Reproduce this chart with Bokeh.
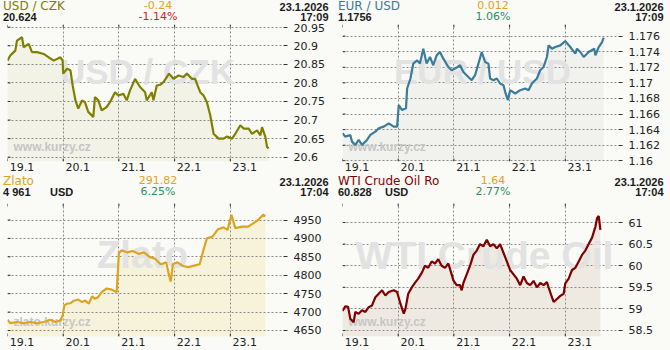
from bokeh.plotting import figure
from bokeh.models import Label, FixedTicker, Range1d, Div
from bokeh.layouts import column, row
from bokeh.embed import file_html
from bokeh.resources import INLINE

# ---------------- data ----------------
day_ticks = [0, 1, 2, 3, 4]
day_labels = ["19.1", "20.1", "21.1", "22.1", "23.1"]

# USD / CZK  (time in days from 19.1 00:00)
czk_t = [0.00, 0.05, 0.14, 0.17, 0.26, 0.29, 0.38, 0.44, 0.53, 0.65, 0.74, 0.83, 0.95, 0.99,
         1.00, 1.07, 1.13, 1.17, 1.22, 1.27, 1.34, 1.39, 1.45, 1.54, 1.57, 1.63, 1.69, 1.78,
         1.84, 1.93, 1.99, 2.08, 2.14, 2.20, 2.29, 2.38, 2.47, 2.50, 2.59, 2.62, 2.68, 2.74,
         2.80, 2.90, 2.98, 3.07, 3.16, 3.22, 3.31, 3.37, 3.40, 3.46, 3.52, 3.58, 3.64, 3.70,
         3.79, 3.88, 3.94, 4.03, 4.09, 4.18, 4.24, 4.33, 4.39, 4.48, 4.54, 4.57, 4.63, 4.66, 4.69]
czk_v = [20.860, 20.874, 20.887, 20.914, 20.923, 20.896, 20.905, 20.883, 20.883, 20.878, 20.869,
         20.860, 20.869, 20.860, 20.825, 20.838, 20.834, 20.793, 20.753, 20.731, 20.753, 20.748,
         20.722, 20.708, 20.762, 20.753, 20.726, 20.735, 20.748, 20.775, 20.766, 20.771, 20.753,
         20.780, 20.811, 20.789, 20.775, 20.753, 20.775, 20.753, 20.793, 20.795, 20.802, 20.825,
         20.811, 20.820, 20.816, 20.825, 20.811, 20.811, 20.798, 20.775, 20.766, 20.748, 20.713,
         20.663, 20.650, 20.650, 20.656, 20.650, 20.663, 20.686, 20.677, 20.677, 20.663, 20.672,
         20.659, 20.681, 20.654, 20.627, 20.624]
czk_ticks = [20.6, 20.65, 20.7, 20.75, 20.8, 20.85, 20.9, 20.95]
czk_tick_labels = ["20.6", "20.65", "20.7", "20.75", "20.8", "20.85", "20.9", "20.95"]

# EUR / USD
eur_t = [0.00, 0.05, 0.14, 0.17, 0.23, 0.29, 0.35, 0.44, 0.50, 0.59, 0.65, 0.74, 0.83, 0.92,
         0.98, 1.01, 1.07, 1.14, 1.16, 1.22, 1.27, 1.34, 1.39, 1.45, 1.51, 1.57, 1.63, 1.69,
         1.75, 1.81, 1.90, 1.96, 2.02, 2.11, 2.17, 2.26, 2.32, 2.38, 2.44, 2.50, 2.56, 2.62,
         2.65, 2.71, 2.77, 2.83, 2.89, 2.92, 2.97, 3.01, 3.10, 3.19, 3.28, 3.34, 3.40, 3.49,
         3.55, 3.61, 3.67, 3.70, 3.76, 3.82, 3.91, 4.00, 4.09, 4.18, 4.21, 4.27, 4.33, 4.42,
         4.52, 4.54, 4.60, 4.66, 4.69]
eur_v = [1.16354, 1.16310, 1.16332, 1.16246, 1.16204, 1.16268, 1.16204, 1.16268, 1.16332,
         1.16374, 1.16417, 1.16438, 1.16481, 1.16438, 1.16438, 1.16715, 1.16651, 1.16673,
         1.16928, 1.17056, 1.17247, 1.17289, 1.17247, 1.17439, 1.17247, 1.17332, 1.17226,
         1.17353, 1.17396, 1.17311, 1.17204, 1.17162, 1.17183, 1.17226, 1.17140, 1.17076,
         1.17034, 1.17098, 1.17247, 1.17396, 1.17268, 1.17247, 1.17056, 1.17034, 1.17056,
         1.16992, 1.16970, 1.16885, 1.16779, 1.16906, 1.16864, 1.16906, 1.16928, 1.16906,
         1.16992, 1.17056, 1.17162, 1.17204, 1.17332, 1.17481, 1.17439, 1.17460, 1.17481,
         1.17536, 1.17460, 1.17375, 1.17439, 1.17396, 1.17332, 1.17396, 1.17439, 1.17353,
         1.17460, 1.17523, 1.17580]
eur_ticks = [1.16, 1.162, 1.164, 1.166, 1.168, 1.17, 1.172, 1.174, 1.176]
eur_tick_labels = ["1.16", "1.162", "1.164", "1.166", "1.168", "1.17", "1.172", "1.174", "1.176"]

# Zlato (gold, USD)
gold_t = [0.00, 0.05, 0.17, 0.29, 0.41, 0.53, 0.65, 0.77, 0.86, 0.95, 0.99, 1.02, 1.07, 1.13,
          1.18, 1.27, 1.34, 1.39, 1.46, 1.52, 1.57, 1.63, 1.69, 1.78, 1.87, 1.96, 2.00, 2.05,
          2.15, 2.25, 2.35, 2.45, 2.55, 2.65, 2.75, 2.85, 2.90, 2.93, 2.97, 3.05, 3.15, 3.25,
          3.35, 3.45, 3.52, 3.58, 3.68, 3.78, 3.88, 3.95, 4.02, 4.09, 4.21, 4.32, 4.41, 4.50,
          4.59, 4.63]
gold_v = [4679, 4670, 4673, 4670, 4673, 4670, 4673, 4679, 4673, 4677, 4691, 4718, 4723, 4724,
          4730, 4734, 4727, 4732, 4723, 4743, 4736, 4741, 4754, 4764, 4761, 4754, 4860, 4868,
          4862, 4866, 4858, 4862, 4850, 4845, 4830, 4835, 4800, 4783, 4830, 4835, 4825, 4822,
          4826, 4830, 4870, 4900, 4905, 4925, 4930, 4923, 4964, 4928, 4932, 4932, 4941, 4950,
          4964, 4961]
gold_ticks = [4650, 4700, 4750, 4800, 4850, 4900, 4950]
gold_tick_labels = ["4650", "4700", "4750", "4800", "4850", "4900", "4950"]

# WTI Crude Oil (USD)
wti_t = [0.00, 0.05, 0.10, 0.14, 0.20, 0.23, 0.29, 0.35, 0.41, 0.47, 0.53, 0.59, 0.65, 0.71,
         0.77, 0.83, 0.92, 0.98, 1.04, 1.10, 1.13, 1.18, 1.25, 1.31, 1.36, 1.43, 1.48, 1.54,
         1.60, 1.66, 1.72, 1.78, 1.84, 1.90, 1.96, 1.99, 2.05, 2.11, 2.14, 2.17, 2.23, 2.29,
         2.35, 2.41, 2.47, 2.53, 2.59, 2.65, 2.71, 2.77, 2.83, 2.89, 2.95, 3.01, 3.07, 3.13,
         3.19, 3.25, 3.31, 3.37, 3.43, 3.49, 3.55, 3.61, 3.67, 3.70, 3.76, 3.79, 3.85, 3.91,
         3.97, 4.00, 4.06, 4.12, 4.18, 4.24, 4.30, 4.36, 4.42, 4.48, 4.54, 4.57, 4.60, 4.63]
wti_v = [58.95, 59.06, 59.05, 58.77, 58.69, 58.93, 58.89, 58.97, 58.93, 59.04, 59.08, 59.27,
         59.35, 59.43, 59.31, 59.39, 59.43, 59.39, 59.12, 58.89, 59.00, 59.35, 59.51, 59.62,
         59.70, 59.85, 60.00, 59.95, 60.10, 60.05, 60.15, 60.00, 59.95, 60.05, 59.80, 59.66,
         59.55, 59.55, 59.43, 59.60, 59.80, 60.00, 60.25, 60.35, 60.50, 60.45, 60.60, 60.45,
         60.50, 60.40, 60.50, 60.30, 60.10, 59.90, 59.80, 59.70, 59.55, 59.75, 59.60, 59.55,
         59.65, 59.50, 59.60, 59.55, 59.62, 59.50, 59.27, 59.16, 59.23, 59.30, 59.35, 59.59,
         59.70, 59.90, 59.95, 60.10, 60.25, 60.35, 60.50, 60.65, 60.90, 61.10, 61.15, 60.83]
wti_ticks = [58.5, 59, 59.5, 60, 60.5, 61]
wti_tick_labels = ["58.5", "59", "59.5", "60", "60.5", "61"]

# ---------------- styling ----------------
BG = "#fafaf6"
W = 335
HH = 23          # header strip height
FL = 7           # frame left (px in panel)
FR = 283         # frame right (px in panel)
FB = 161         # frame bottom (px in panel)
XMAX = 4.955     # days shown across the frame
LABEL_OFF = 0.26


def span(text, left=None, right=None, center=None, top=0.0, size=11, color="#1a1a1a",
         font="DejaVu Sans", bold=False):
    pos = f"top:{top}px;"
    if center is not None:
        pos += f"left:{center - 50}px;width:100px;text-align:center;"
    elif right is not None:
        pos += f"right:{right}px;text-align:right;"
    else:
        pos += f"left:{left}px;"
    weight = "bold" if bold else "normal"
    return (f'<span style="position:absolute;{pos}white-space:nowrap;'
            f"font-family:'{font}';font-size:{size}px;line-height:10px;height:10px;"
            f'font-weight:{weight};color:{color};">{text}</span>')


def header(name, color, last, unit, chg, pct, pct_color, date, time):
    parts = [
        span(name, left=3, top=1.1, size=12, color=color),
        span(last, left=3, top=11.6, font="Liberation Sans", bold=True),
        span(chg, center=158, top=1.4, color="#e3a21a"),
        span(pct, center=158, top=11.6, color=pct_color),
        span(date, right=6.5, top=1.5, font="Liberation Sans", bold=True),
        span(time, right=6.5, top=11.6, font="Liberation Sans", bold=True),
    ]
    if unit:
        parts.append(span(unit, left=50, top=11.6, font="Liberation Sans", bold=True))
    html = (f'<div style="position:relative;width:{W}px;height:{HH}px;overflow:hidden;'
            f'background:{BG};margin:0;padding:0;">' + "".join(parts) + "</div>")
    return Div(text=html, width=W, height=HH, margin=0, styles={"background-color": BG})


def chart(t, v, yr, ticks, tick_labels, color, fill, watermark, wm_x, wm_align, wm_size,
          wm_mid, site, frame_top):
    p = figure(width=W, height=175 - HH, output_backend="svg", toolbar_location=None,
               title=None, x_range=Range1d(0, XMAX), y_range=Range1d(*yr),
               y_axis_location="right",
               min_border_left=FL, min_border_right=W - FR, min_border_top=frame_top - HH,
               min_border_bottom=175 - FB, background_fill_color=BG, border_fill_color=BG,
               outline_line_color=None, margin=0)
    ux = XMAX / (FR - FL)                       # data units per pixel (x)
    uy = (yr[1] - yr[0]) / (FB - frame_top)     # data units per pixel (y)

    def px(x):
        return (x - FL) * ux

    def py(y):
        return yr[0] + (FB - y) * uy

    # grid at day boundaries and value ticks
    p.xgrid.ticker = FixedTicker(ticks=day_ticks)
    p.ygrid.ticker = FixedTicker(ticks=ticks)
    for g in (p.xgrid, p.ygrid):
        g.grid_line_color = "#8c8c8c"
        g.grid_line_dash = "2 2"
        g.grid_line_width = 1
    # x labels, set just right of each day boundary
    lt = [d + LABEL_OFF for d in day_ticks]
    xa = p.xaxis[0]
    xa.ticker = FixedTicker(ticks=lt)
    xa.major_label_overrides = {k: s for k, s in zip(lt, day_labels)}
    xa.major_tick_in = 0
    xa.major_tick_out = 0
    xa.axis_line_color = None
    xa.major_label_standoff = 1
    xa.major_label_text_font = "DejaVu Sans"
    xa.major_label_text_font_size = "11px"
    xa.major_label_text_color = "#222222"
    # right value axis
    ya = p.yaxis[0]
    ya.ticker = FixedTicker(ticks=ticks)
    ya.major_label_overrides = {k: s for k, s in zip(ticks, tick_labels)}
    ya.major_tick_in = 0
    ya.major_tick_out = 4
    ya.major_tick_line_color = "#333333"
    ya.axis_line_color = None
    ya.major_label_standoff = 6
    ya.major_label_text_font = "DejaVu Sans"
    ya.major_label_text_font_size = "11px"
    ya.major_label_text_color = "#222222"

    # small dark ticks at the ends of the grid lines
    n = len(day_ticks)
    p.segment(x0=day_ticks + day_ticks, x1=day_ticks + day_ticks,
              y0=[yr[1]] * n + [yr[0]] * n,
              y1=[yr[1] - 3 * uy] * n + [yr[0] + 3 * uy] * n,
              line_color="#333333", line_width=1)
    p.segment(x0=[0] * len(ticks), x1=[3 * ux] * len(ticks), y0=ticks, y1=ticks,
              line_color="#333333", line_width=1)

    # watermarks (positioned by the vertical middle of the text)
    p.add_layout(Label(x=px(wm_x), y=py(wm_mid), text=watermark, text_color="#e2e2e2",
                       text_font_size=wm_size, text_font="Liberation Sans",
                       text_font_style="bold", text_align=wm_align,
                       text_baseline="middle", level="underlay"))
    p.add_layout(Label(x=px(13), y=py(146.3), text=site, text_color="#c6c6c6",
                       text_font_size="12px", text_font="Liberation Sans",
                       text_font_style="bold", text_align="left",
                       text_baseline="middle", level="underlay"))

    # data
    p.varea(x=t, y1=yr[0], y2=v, fill_color=fill, level="image")
    p.line(t, v, line_color=color, line_width=2.2)
    return p


h1 = header("USD / CZK", "#808000", "20.624", "", "-0.24", "-1.14%", "#c3272b", "23.1.2026", "17:09")
c1 = chart(czk_t, czk_v, (20.5884, 20.9573), czk_ticks, czk_tick_labels, "#808000", "#f2f2e7",
           "USD / CZK", 147, "center", "35px", 70.5, "www.kurzy.cz", 24)
h2 = header("EUR / USD", "#3b7b9b", "1.1756", "", "0.012", "1.06%", "#2a9060", "23.1.2026", "17:09")
c2 = chart(eur_t, eur_v, (1.15991, 1.17749), eur_ticks, eur_tick_labels, "#3b7b9b", "#f1f2ed",
           "EUR / USD", 147, "center", "35px", 70.5, "www.kurzy.cz", 24)
h3 = header("Zlato", "#dca424", "4 961", "USD", "291.82", "6.25%", "#2a9060", "23.1.2026", "17:04")
c3 = chart(gold_t, gold_v, (4633.7, 4994.8), gold_ticks, gold_tick_labels, "#dca424", "#f6f3da",
           "Zlato", 142, "center", "38px", 79.5, "zlato.kurzy.cz", 28)
h4 = header("WTI Crude Oil Ro", "#800000", "60.828", "USD", "1.64", "2.77%", "#2a9060", "23.1.2026", "17:04")
c4 = chart(wti_t, wti_v, (58.361, 61.44), wti_ticks, wti_tick_labels, "#800000", "#eeeae1",
           "WTI Crude Oil", 20, "left", "39px", 79.5, "www.kurzy.cz", 28)

layout = column(
    row(column(h1, c1, spacing=0), column(h2, c2, spacing=0), spacing=0),
    row(column(h3, c3, spacing=0), column(h4, c4, spacing=0), spacing=0),
    spacing=0, styles={"background-color": BG})
open("out.html", "w").write(file_html(layout, INLINE))
